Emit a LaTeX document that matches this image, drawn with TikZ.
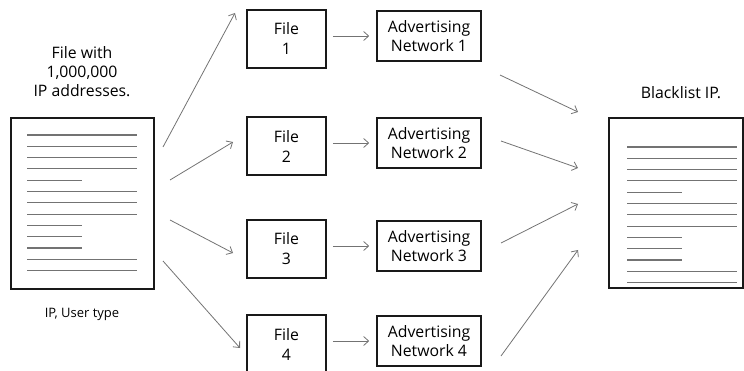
\documentclass[tikz,border=0pt]{standalone}
\usepackage{fontspec}
\setmainfont{Open Sans}
\usetikzlibrary{arrows.meta}
\newcommand{\drawDocLines}[2]{
\foreach \i/\l in {0/110,1/110,2/110,3/110,4/55,5/110,6/110,7/110,8/55,9/55,10/55,11/110,12/110}
  \draw [docline] (#1,#2+\i*11.3) -- +(\l,0);
}
\begin{document}
\begin{tikzpicture}[x=1pt,y=-1pt,>={Straight Barb[length=5pt,width=9pt]},
  docbox/.style={draw=black!90,line width=1.6pt},
  docline/.style={draw=black!55,line width=1.1pt},
  filebox/.style={draw=black!90,line width=1.6pt,minimum width=79,minimum height=58,align=center,text=black,font=\fontsize{15.8}{20}\selectfont},
  advbox/.style={draw=black!90,line width=1.6pt,minimum width=104,minimum height=50,align=center,text=black,font=\fontsize{15.8}{19}\selectfont},
  caption/.style={align=center,text=black,font=\fontsize{15.8}{19}\selectfont},
  flow/.style={->,draw=black!55,line width=0.8pt}]
\useasboundingbox (0,0) rectangle (744,371);
%
\node (src) at (82.5,203.5) [docbox,minimum width=143,minimum height=171] {};\drawDocLines{27}{135}
\node (srctitle) at (82,72) [caption] {File with\\1,000,000\\IP addresses.};
\node (srcnote) at (82,314) [text=black,font=\fontsize{13}{15}\selectfont] {IP, User type};
%
\node (dst) at (676,203) [docbox,minimum width=134,minimum height=170] {};\drawDocLines{627}{147}
\node (dsttitle) at (681,93) [caption] {Blacklist IP.};
%
\node (f1) at (286.5,39) [filebox] {File\\1};\node (a1) at (429,36) [advbox] {Advertising\\Network 1};
\node (f2) at (286.5,146) [filebox] {File\\2};\node (a2) at (429,143) [advbox] {Advertising\\Network 2};
\node (f3) at (286.5,249) [filebox] {File\\3};\node (a3) at (429,246) [advbox] {Advertising\\Network 3};
\node (f4) at (286.5,344) [filebox] {File\\4};\node (a4) at (429,341) [advbox] {Advertising\\Network 4};
%
\draw [flow,shorten <=6pt,shorten >=7pt] (f1.east |- a1.west) -- (a1.west);
\draw [flow,shorten <=6pt,shorten >=7pt] (f2.east |- a2.west) -- (a2.west);
\draw [flow,shorten <=6pt,shorten >=7pt] (f3.east |- a3.west) -- (a3.west);
\draw [flow,shorten <=6pt,shorten >=7pt] (f4.east |- a4.west) -- (a4.west);
%
\coordinate (s1) at (163,147);\coordinate (e1) at (235,13);\draw [flow] (s1) -- (e1);
\coordinate (s2) at (170,180);\coordinate (e2) at (233,142);\draw [flow] (s2) -- (e2);
\coordinate (s3) at (170,220);\coordinate (e3) at (233,253);\draw [flow] (s3) -- (e3);
\coordinate (s4) at (163,261);\coordinate (e4) at (240,348);\draw [flow] (s4) -- (e4);
%
\coordinate (r1) at (500,75);\coordinate (b1) at (578,112);\draw [flow] (r1) -- (b1);
\coordinate (r2) at (501,141);\coordinate (b2) at (578,168);\draw [flow] (r2) -- (b2);
\coordinate (r3) at (501,243);\coordinate (b3) at (578,204);\draw [flow] (r3) -- (b3);
\coordinate (r4) at (501,356);\coordinate (b4) at (578,250);\draw [flow] (r4) -- (b4);
\end{tikzpicture}
\end{document}
